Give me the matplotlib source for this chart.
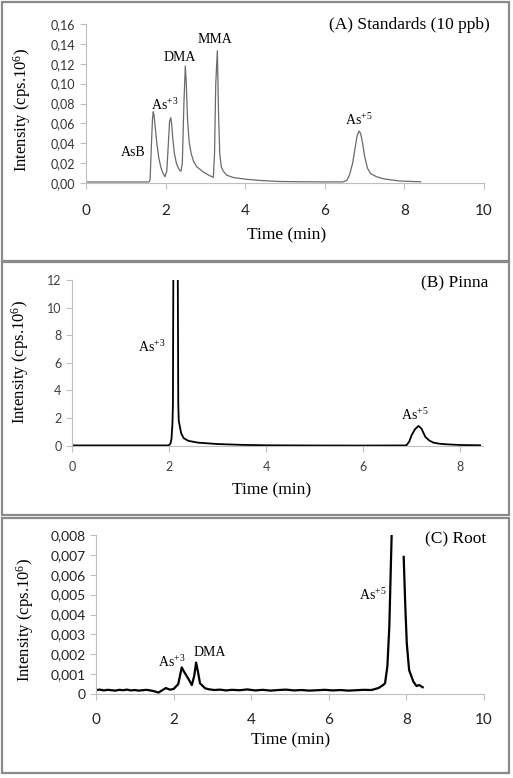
import numpy as np
import matplotlib
matplotlib.use("Agg")
import matplotlib.pyplot as plt
from matplotlib.patches import Rectangle

plt.rcParams['mathtext.fontset'] = 'custom'
plt.rcParams['mathtext.rm'] = 'Liberation Serif'
plt.rcParams['mathtext.it'] = 'Liberation Serif:italic'

W, H = 513, 778
SERIF = 'Liberation Serif'
SANS = 'Lato'

# (A) Standards (10 ppb)
time_a = [0.0, 1.0, 1.58, 1.61, 1.64, 1.67, 1.69, 1.71, 1.74, 1.78, 1.83, 1.88, 1.93, 1.985,
          2.03, 2.07, 2.10, 2.128, 2.15, 2.18, 2.22, 2.27, 2.32, 2.36, 2.387, 2.42, 2.46, 2.495,
          2.52, 2.55, 2.59, 2.64, 2.70, 2.78, 2.95, 3.10, 3.20, 3.23, 3.26, 3.30, 3.33, 3.36,
          3.40, 3.45, 3.53, 3.70, 4.04, 4.40, 4.87, 5.5, 6.0, 6.45, 6.55, 6.62, 6.70, 6.76,
          6.81, 6.86, 6.90, 6.95, 7.00, 7.07, 7.15, 7.30, 7.50, 7.89, 8.41]
int_a = [0.0010, 0.0010, 0.0010, 0.0030, 0.0350, 0.0640, 0.0717, 0.0680, 0.0560, 0.0400,
         0.0250, 0.0160, 0.0100, 0.0063, 0.0120, 0.0400, 0.0620, 0.0657, 0.0600, 0.0450,
         0.0300, 0.0200, 0.0150, 0.0125, 0.0120, 0.0200, 0.0800, 0.1177, 0.1000, 0.0650,
         0.0420, 0.0300, 0.0220, 0.0164, 0.0110, 0.0075, 0.0057, 0.0300, 0.1000, 0.1330,
         0.0700, 0.0300, 0.0160, 0.0120, 0.0080, 0.0055, 0.0037, 0.0025, 0.0015, 0.0012,
         0.0011, 0.0011, 0.0025, 0.0080, 0.0200, 0.0350, 0.0470, 0.0523, 0.0500, 0.0400,
         0.0270, 0.0150, 0.0095, 0.0063, 0.0040, 0.0020, 0.0012]

# (B) Pinna
time_b = [0.0, 1.0, 1.99, 2.03, 2.05, 2.07, 2.08, 2.13, 2.19, 2.20, 2.25, 2.30, 2.40,
          2.60, 3.00, 3.50, 4.00, 5.00, 6.00, 6.89, 6.95, 7.00, 7.07, 7.14, 7.20, 7.28,
          7.36, 7.45, 7.58, 7.72, 8.00, 8.41]
int_b = [0.02, 0.02, 0.02, 0.15, 0.5, 1.6, 3.0, 60.0, 3.0, 1.8, 0.9, 0.55, 0.35,
         0.22, 0.12, 0.06, 0.03, 0.015, 0.01, 0.02, 0.3, 0.77, 1.2, 1.43, 1.25, 0.65,
         0.38, 0.22, 0.14, 0.10, 0.05, 0.03]

# (C) Root
time_c = [0.0, 0.1, 0.2, 0.3, 0.4, 0.5, 0.6, 0.7, 0.8, 0.9, 1.0, 1.1, 1.2, 1.3, 1.4,
          1.5, 1.61, 1.7, 1.8, 1.9, 2.0, 2.12, 2.21, 2.26, 2.32, 2.40, 2.47, 2.53, 2.58,
          2.63, 2.68, 2.81, 2.9, 3.05, 3.2, 3.35, 3.5, 3.7, 3.9, 4.1, 4.3, 4.5, 4.7, 4.9,
          5.1, 5.3, 5.5, 5.7, 5.9, 6.1, 6.3, 6.5, 6.7, 6.9, 7.1, 7.28, 7.40, 7.45, 7.51,
          7.56, 7.60, 7.64, 7.66, 7.93, 7.97, 8.01, 8.07, 8.18, 8.26, 8.33, 8.42]
int_c = [0.00020, 0.00022, 0.00018, 0.00021, 0.00019, 0.00017, 0.00021, 0.00019,
         0.00022, 0.00018, 0.00020, 0.00017, 0.00019, 0.00021, 0.00018, 0.00014,
         0.00007, 0.00018, 0.00030, 0.00022, 0.00025, 0.00050, 0.00134, 0.00115,
         0.00096, 0.00070, 0.00045, 0.00090, 0.00158, 0.00110, 0.00054, 0.00029,
         0.00024, 0.00020, 0.00022, 0.00018, 0.00021, 0.00019, 0.00023, 0.00018,
         0.00021, 0.00017, 0.00020, 0.00022, 0.00018, 0.00020, 0.00017, 0.00019,
         0.00021, 0.00018, 0.00020, 0.00017, 0.00019, 0.00021, 0.00020, 0.00030,
         0.00045, 0.00054, 0.00140, 0.00340, 0.00650, 0.00950, np.nan, 0.00690,
         0.00450, 0.00255, 0.00120, 0.00062, 0.00040, 0.00045, 0.00034]

ticks_a = [0, 0.02, 0.04, 0.06, 0.08, 0.10, 0.12, 0.14, 0.16]
ticks_b = [0, 2, 4, 6, 8, 10, 12]
ticks_c = [0, 0.001, 0.002, 0.003, 0.004, 0.005, 0.006, 0.007, 0.008]


def fx(x):
    return x / W


def fy(y):
    return 1 - y / H


def make_axes(fig, left, top, right, bottom):
    ax = fig.add_axes([fx(left), fy(bottom), (right - left) / W, (bottom - top) / H])
    for s in ['top', 'right']:
        ax.spines[s].set_visible(False)
    for s in ['left', 'bottom']:
        ax.spines[s].set_color('#bfbfbf')
        ax.spines[s].set_linewidth(0.8)
    ax.tick_params(color='#bfbfbf', length=4, width=0.8, direction='out')
    return ax


def comma(v, nd):
    if v == 0 and nd == 3:
        return '0'
    return f'{v:.{nd}f}'.replace('.', ',')


fig = plt.figure(figsize=(W / 100, H / 100), dpi=100)

# panel frames
for top, bot in [(2, 261), (262, 515), (518, 773)]:
    fig.patches.append(Rectangle((fx(2), fy(bot)), (509 - 2) / W, (bot - top) / H,
                                 transform=fig.transFigure, fill=False,
                                 edgecolor='#8a8a8a', linewidth=1.6))

ylab = 'Intensity (cps.10$^{6}$)'

# ---- A ----
ax = make_axes(fig, 86, 24, 484, 183)
ax.plot(time_a, int_a, color='#6a6a6a', lw=0.9)
ax.set_xlim(0, 10)
ax.set_ylim(0, 0.16)
ax.set_yticks(ticks_a)
ax.set_yticklabels([comma(v, 2) for v in ticks_a], fontsize=9, family=SANS, color='#333333')
ax.set_xticks([0, 2, 4, 6, 8, 10])
ax.set_xticklabels(['0', '2', '4', '6', '8', '10'], fontsize=11, family=SANS, color='#222222')
ax.tick_params(axis='x', pad=11)
fig.text(fx(22), fy(110), ylab, rotation=90, ha='center', va='center', fontsize=12, family=SERIF)
fig.text(fx(287), fy(235), 'Time (min)', ha='center', va='center', fontsize=12.5, family=SERIF)
fig.text(fx(490), fy(25), '(A) Standards (10 ppb)', ha='right', va='center', fontsize=12.5, family=SERIF)
for s, x, y in [('AsB', 1.18, 0.031), ('As$^{+3}$', 1.98, 0.078), ('DMA', 2.36, 0.1265),
                ('MMA', 3.24, 0.144), ('As$^{+5}$', 6.86, 0.063)]:
    ax.text(x, y, s, ha='center', va='center', fontsize=10, family=SERIF)

# ---- B ----
ax = make_axes(fig, 72, 280, 483, 445.7)
ax.plot(time_b, int_b, color='black', lw=1.3)
ax.set_xlim(0, 8.47)
ax.set_ylim(0, 12)
ax.set_yticks(ticks_b)
ax.set_yticklabels([str(v) for v in ticks_b], fontsize=9, family=SANS, color='#404040')
ax.set_xticks([0, 2, 4, 6, 8])
ax.set_xticklabels(['0', '2', '4', '6', '8'], fontsize=9, family=SANS, color='#404040')
ax.tick_params(axis='x', pad=7)
fig.text(fx(20), fy(362), ylab, rotation=90, ha='center', va='center', fontsize=12, family=SERIF)
fig.text(fx(272), fy(490), 'Time (min)', ha='center', va='center', fontsize=12.5, family=SERIF)
fig.text(fx(488), fy(283), '(B) Pinna', ha='right', va='center', fontsize=12.5, family=SERIF)
for s, x, y in [('As$^{+3}$', 1.65, 7.15), ('As$^{+5}$', 7.07, 2.22)]:
    ax.text(x, y, s, ha='center', va='center', fontsize=10, family=SERIF)

# ---- C ----
ax = make_axes(fig, 96, 535, 484, 694)
ax.plot(time_c, int_c, color='black', lw=1.6)
ax.set_xlim(0, 10)
ax.set_ylim(0, 0.008)
ax.set_yticks(ticks_c)
ax.set_yticklabels([comma(v, 3) for v in ticks_c], fontsize=10, family=SANS, color='#222222')
ax.set_xticks([0, 2, 4, 6, 8, 10])
ax.set_xticklabels(['0', '2', '4', '6', '8', '10'], fontsize=11, family=SANS, color='#222222')
ax.tick_params(axis='x', pad=10)
fig.text(fx(25), fy(620), ylab, rotation=90, ha='center', va='center', fontsize=12, family=SERIF)
fig.text(fx(291), fy(740), 'Time (min)', ha='center', va='center', fontsize=12.5, family=SERIF)
fig.text(fx(486), fy(539), '(C) Root', ha='right', va='center', fontsize=12.5, family=SERIF)
for s, x, y in [('As$^{+3}$', 1.96, 0.0016), ('DMA', 2.94, 0.0021), ('As$^{+5}$', 7.14, 0.005)]:
    ax.text(x, y, s, ha='center', va='center', fontsize=10, family=SERIF)

fig.savefig('out.png', dpi=100)
